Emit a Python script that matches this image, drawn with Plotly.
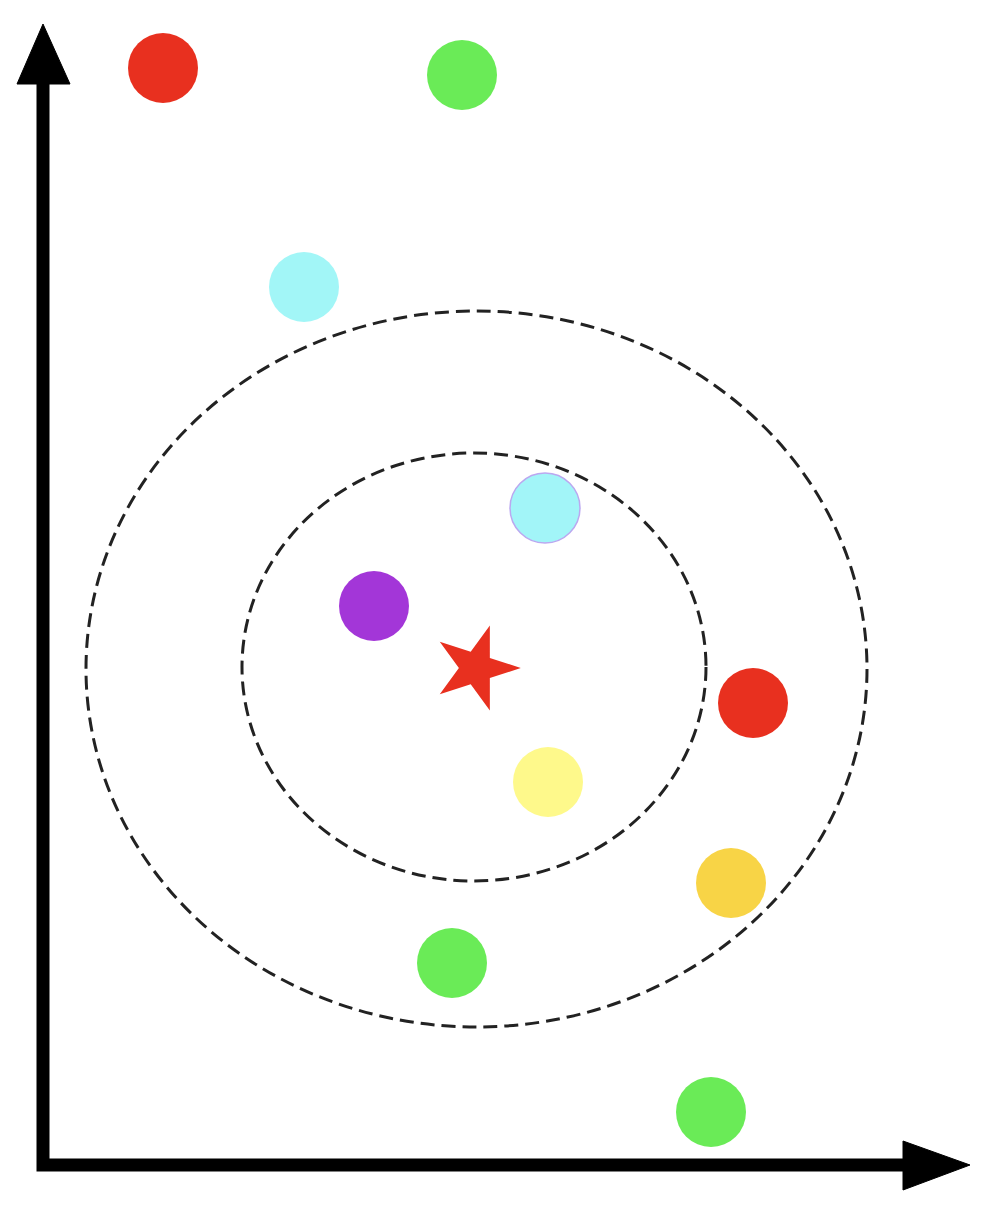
import plotly.graph_objects as go

# ---- data (canvas pixel units: x to the right, y downward) ----
point_x = [163, 462, 304, 545, 374, 753, 548, 731, 452, 711]
point_y = [68, 75, 287, 508, 606, 703, 782, 883, 963, 1112]
point_colors = ["#E8301F", "#6AEB57", "#A2F6F7", "#A2F5F8", "#A336D8",
                "#E8301F", "#FEF98B", "#F8D446", "#6AEB57", "#6AEB57"]
point_outline = ["rgba(0,0,0,0)"] * 3 + ["#BBA8F0"] + ["rgba(0,0,0,0)"] * 6

query_x = [476]
query_y = [668]

ring_cx = [474, 476.5]
ring_cy = [667, 669]
ring_rx = [232, 390.5]
ring_ry = [214, 358]

W, H = 996, 1230

fig = go.Figure()

# dashed neighbourhood rings
for cx, cy, rx, ry in zip(ring_cx, ring_cy, ring_rx, ring_ry):
    fig.add_shape(type="circle", xref="x", yref="y",
                  x0=cx - rx, x1=cx + rx, y0=cy - ry, y1=cy + ry,
                  line=dict(color="#222222", width=3, dash="14px,7px"),
                  fillcolor="rgba(0,0,0,0)", layer="below")

# axes arrows
fig.add_shape(type="path", xref="x", yref="y",
              path="M 43 83 L 43 1165 L 904 1165",
              line=dict(color="black", width=13))
fig.add_shape(type="path", xref="x", yref="y",
              path="M 17 84 L 70 84 L 43 24 Z",
              fillcolor="black", line=dict(color="black", width=1))
fig.add_shape(type="path", xref="x", yref="y",
              path="M 903 1141 L 903 1190 L 970 1165 Z",
              fillcolor="black", line=dict(color="black", width=1))

# data points
fig.add_trace(go.Scatter(
    x=point_x, y=point_y, mode="markers",
    marker=dict(symbol="circle", size=70, color=point_colors,
                line=dict(color=point_outline, width=1.5)),
    showlegend=False, hoverinfo="skip"))

# query point (star)
fig.add_trace(go.Scatter(
    x=query_x, y=query_y, mode="markers",
    marker=dict(symbol="star", size=64, angle=90, color="#E8301F",
                line=dict(width=0)),
    showlegend=False, hoverinfo="skip"))

fig.update_layout(
    width=W, height=H,
    margin=dict(l=0, r=0, t=0, b=0),
    paper_bgcolor="white", plot_bgcolor="white",
    xaxis=dict(range=[0, W], visible=False, fixedrange=True),
    yaxis=dict(range=[H, 0], visible=False, fixedrange=True),
)

fig.write_html("out.html", config={"displayModeBar": False})
